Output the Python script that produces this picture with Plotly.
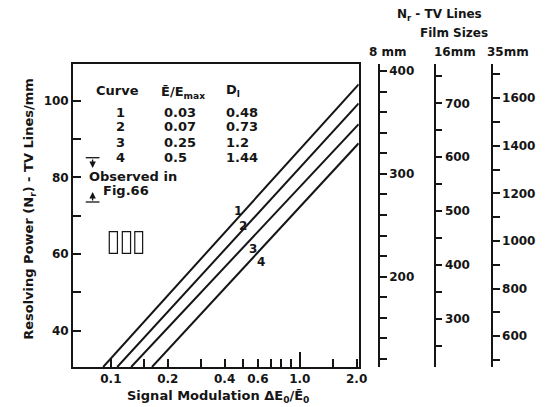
import numpy as np
import plotly.graph_objects as go

# ---------------- data ----------------
curve_names = ["1", "2", "3", "4"]
curve_x = [[0.091, 2.05], [0.108, 2.05], [0.128, 2.05], [0.165, 2.05]]   # signal modulation
curve_y = [[30.5, 104.3], [30.5, 99.3], [30.5, 93.9], [30.5, 88.9]]      # TV lines/mm
e_ratio = ["0.03", "0.07", "0.25", "0.5"]
d_l = ["0.48", "0.73", "1.2", "1.44"]

x_tickvals = [0.1, 0.2, 0.4, 0.6, 1.0, 2.0]
x_ticktext = ["0.1", "0.2", "0.4", "0.6", "1.0", "2.0"]
x_minor = [0.15, 0.3, 0.5, 0.7, 0.8, 0.9, 1.5]
y_tickvals = [40, 60, 80, 100]

film_sizes = ["8 mm", "16mm", "35mm"]
film_ranges = [[112.2, 406.8], [210.2, 773.1], [470.8, 1743.4]]
film_dtick = [100, 100, 200]
film_minor = [20, 50, 100]

# ---------------- layout helpers ----------------
W, H = 549, 407
ML, MR, MT, MB = 73, 10, 64, 40
PW, PH = W - ML - MR, H - MT - MB


def px(xpix):
    return (xpix - ML) / PW


def py(ypix):
    return (H - MB - ypix) / PH


FONT = "DejaVu Sans"
INK = "#151515"
TICKFONT = dict(family=FONT, size=12, color=INK, weight="bold")

fig = go.Figure()
for i, name in enumerate(curve_names):
    fig.add_trace(go.Scatter(x=curve_x[i], y=curve_y[i], mode="lines",
                             line=dict(color=INK, width=2), name=name,
                             hoverinfo="skip", showlegend=False))
# traces anchoring the film-size axes
for k in range(3):
    fig.add_trace(go.Scatter(x=[None], y=[None], xaxis="x", yaxis="y%d" % (k + 2),
                             showlegend=False, hoverinfo="skip"))
# overlay axis for long tick at 1.0
fig.add_trace(go.Scatter(x=[None], y=[None], xaxis="x2", yaxis="y",
                         showlegend=False, hoverinfo="skip"))

xr = [np.log10(0.063), np.log10(2.05)]
fig.update_layout(
    width=W, height=H, autosize=False,
    margin=dict(l=ML, r=MR, t=MT, b=MB),
    paper_bgcolor="white", plot_bgcolor="white",
    font=dict(family=FONT, size=12, color=INK),
    showlegend=False,
    xaxis=dict(type="log", range=xr, domain=[0, px(364.3)],
               tickmode="array", tickvals=x_tickvals, ticktext=x_ticktext,
               ticks="inside", ticklen=8, tickwidth=1.5, tickcolor=INK,
               showline=True, linewidth=1.8, linecolor=INK, mirror=True,
               showgrid=False, zeroline=False,
               tickfont=TICKFONT,
               minor=dict(tickmode="array", tickvals=x_minor, ticks="inside",
                          ticklen=8, tickwidth=1.5, tickcolor=INK, showgrid=False)),
    xaxis2=dict(type="log", range=xr, domain=[0, px(364.3)], overlaying="x",
                anchor="y", side="bottom", tickmode="array", tickvals=[1.0],
                ticks="inside", ticklen=15, tickwidth=1.5, tickcolor=INK,
                showticklabels=False, showline=False, showgrid=False, zeroline=False),
    yaxis=dict(range=[30.5, 109.6], tickmode="array", tickvals=y_tickvals,
               ticks="inside", ticklen=8, tickwidth=1.5, tickcolor=INK,
               showline=True, linewidth=1.8, linecolor=INK, mirror=True,
               showgrid=False, zeroline=False, tickfont=TICKFONT,
               minor=dict(tickmode="array", tickvals=[50, 70, 90], ticks="inside",
                          ticklen=8, tickwidth=1.5, tickcolor=INK, showgrid=False)),
)

positions = [px(385), px(441.7), px(500)]
for k in range(3):
    fig.layout["yaxis%d" % (k + 2)] = dict(
        overlaying="y", anchor="free", position=positions[k], side="right",
        range=film_ranges[k], tickmode="linear", tick0=0, dtick=film_dtick[k],
        ticks="outside", ticklen=7, tickwidth=1.5, tickcolor=INK,
        showline=True, linewidth=1.8, linecolor=INK,
        showgrid=False, zeroline=False, tickfont=TICKFONT,
        minor=dict(tickmode="linear", tick0=0, dtick=film_minor[k], ticks="outside",
                   ticklen=7, tickwidth=1.5, tickcolor=INK, showgrid=False),
    )

ann = []


def text(x, y, s, size=12, xanchor="center", angle=0):
    ann.append(dict(x=px(x), y=py(y), xref="paper", yref="paper", text=s,
                    showarrow=False, xanchor=xanchor, yanchor="middle",
                    textangle=angle,
                    font=dict(size=size, family=FONT, color=INK, weight="bold")))


# axis titles
text(28, 209, "Resolving Power (N<sub>r</sub>) - TV Lines/mm", size=13, angle=-90)
text(221, 396, "Signal Modulation ΔE<sub>0</sub>/Ē<sub>0</sub>", size=13)

# right header
text(447, 15, "N<sub>r</sub> - TV Lines", size=12)
text(461, 33, "Film Sizes", size=12)
for s, xx in zip(film_sizes, [394.7, 462.5, 516.7]):
    text(xx, 52, s, size=12)

# table
text(118, 91, "Curve", size=13)
text(161, 92, "Ē/E<sub>max</sub>", size=13, xanchor="left")
text(227, 91, "D<sub>l</sub>", size=13, xanchor="left")
rows_y = [112, 127, 142, 157]
for i in range(4):
    text(121, rows_y[i], curve_names[i], size=13)
    text(164, rows_y[i], e_ratio[i], size=13, xanchor="left")
    text(227, rows_y[i], d_l[i], size=13, xanchor="left")

# observed note
text(87, 176, "Observed in", size=13, xanchor="left")
text(102, 190, "Fig.66", size=13, xanchor="left")

# curve labels
for s, (lx, ly) in zip(curve_names, [(241.7, 211), (246.7, 226), (256.7, 248.5), (265, 262)]):
    text(lx, ly, s, size=12)

# arrows of observed range
ann.append(dict(x=px(93), y=py(168), xref="paper", yref="paper", ax=0, ay=-10,
                showarrow=True, arrowhead=2, arrowsize=1, arrowwidth=1.3,
                arrowcolor=INK, text=""))
ann.append(dict(x=px(93), y=py(192), xref="paper", yref="paper", ax=0, ay=10,
                showarrow=True, arrowhead=2, arrowsize=1, arrowwidth=1.3,
                arrowcolor=INK, text=""))
fig.update_layout(annotations=ann)

shapes = []
for yy in [157.7, 202]:
    shapes.append(dict(type="line", xref="paper", yref="paper",
                       x0=px(86), x1=px(100), y0=py(yy), y1=py(yy),
                       line=dict(color=INK, width=1.3)))
# small three-rectangle symbol
for x0, x1 in [(110, 118.3), (123.3, 131.7), (136, 144)]:
    shapes.append(dict(type="rect", xref="paper", yref="paper",
                       x0=px(x0), x1=px(x1), y0=py(253.3), y1=py(231.7),
                       line=dict(color=INK, width=1.2), fillcolor="white"))
fig.update_layout(shapes=shapes)

fig.write_html("out.html")
